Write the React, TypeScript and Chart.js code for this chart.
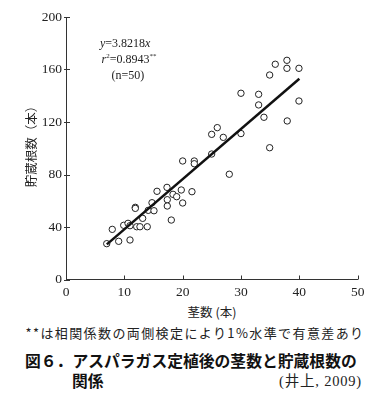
import React, { useEffect, useRef } from 'react';
import { Chart, registerables } from 'chart.js';

Chart.register(...registerables);

// ---- data ----
const stemCounts = [
  6.98, 7.93, 9.03, 9.89, 10.63, 10.97, 10.97, 11.88, 11.88, 12.12,
  12.68, 13.14, 13.93, 14.1, 14.74, 15.08, 15.6, 17.31, 17.36, 17.36,
  18.05, 18.34, 18.97, 19.76, 20.0, 20.0, 21.59, 21.99, 21.99, 24.97,
  24.97, 25.93, 26.96, 27.99, 29.99, 29.99, 33.02, 33.02, 33.93, 34.91,
  34.91, 35.87, 37.87, 37.87, 37.92, 39.93, 39.93,
];
const storageRoots = [
  27.3, 38.2, 29.1, 41.3, 42.8, 41.0, 30.1, 55.0, 54.2, 40.2,
  40.2, 46.6, 40.2, 52.7, 58.5, 52.4, 67.2, 70.2, 60.8, 56.0,
  45.3, 64.9, 63.1, 68.2, 58.3, 90.3, 66.9, 90.3, 88.2, 110.6,
  95.6, 115.7, 108.3, 80.2, 111.2, 141.9, 141.1, 133.0, 123.6, 100.4,
  155.8, 164.0, 167.0, 160.9, 120.8, 160.9, 136.0,
];
const fitX = [7, 40];
const fitY = [26.75, 152.9];
const xTickValues = [0, 10, 20, 30, 40, 50];
const yTickValues = [0, 40, 80, 120, 160, 200];

const yTitle = '貯蔵根数（本）';
const xTitle = '茎数 (本)';
const noteText = '**は相関係数の両側検定により1%水準で有意差あり';
const captionLine1 = '図６．アスパラガス定植後の茎数と貯蔵根数の';
const captionLine2 = '関係';
const sourceText = '(井上, 2009)';
const eqSlope = '3.8218';
const eqR2 = '0.8943';
const eqN = '(n=50)';

const SERIF = "'Liberation Serif', serif";
const SERIF_CJK = "'Liberation Serif', 'Noto Sans CJK JP', serif";
const CJK = "'Noto Sans CJK JP', sans-serif";

Chart.defaults.font.family = SERIF;

const decorPlugin = {
  id: 'decor',
  afterDraw(chart: any) {
    const { ctx } = chart;
    const xs = chart.scales.x;
    const ys = chart.scales.y;
    ctx.save();
    ctx.strokeStyle = '#333';
    ctx.lineWidth = 1;
    xTickValues.forEach((v) => {
      const px = Math.round(xs.getPixelForValue(v)) + 0.5;
      ctx.beginPath();
      ctx.moveTo(px, ys.bottom);
      ctx.lineTo(px, ys.bottom - 4);
      ctx.stroke();
    });
    yTickValues.forEach((v) => {
      const py = Math.round(ys.getPixelForValue(v)) + 0.5;
      ctx.beginPath();
      ctx.moveTo(xs.left - 2, py);
      ctx.lineTo(xs.left + 4, py);
      ctx.stroke();
    });

    ctx.fillStyle = '#222';
    ctx.save();
    ctx.translate(31, 143.5);
    ctx.rotate(-Math.PI / 2);
    ctx.font = `12.5px ${CJK}`;
    ctx.textAlign = 'center';
    ctx.textBaseline = 'middle';
    ctx.fillText(yTitle, 0, 0);
    ctx.restore();

    const drawRuns = (x0: number, y0: number, runs: [string, string, number][]) => {
      let x = x0;
      ctx.textAlign = 'left';
      ctx.textBaseline = 'alphabetic';
      runs.forEach(([t, f, dy]) => {
        ctx.font = f;
        ctx.fillText(t, x, y0 - dy);
        x += ctx.measureText(t).width;
      });
    };
    const normal = `12px ${SERIF}`;
    const italic = `italic 12px ${SERIF}`;
    const small = `7px ${SERIF}`;
    drawRuns(100, 46.5, [['y', italic, 0], ['=' + eqSlope, normal, 0], ['x', italic, 0]]);
    drawRuns(101.5, 63, [['r', italic, 0], ['2', small, 5], ['=' + eqR2, normal, 0], ['**', small, 5]]);
    drawRuns(111.5, 78.5, [[eqN, normal, 0]]);
    ctx.restore();
  },
};

export default function App() {
  const ref = useRef<HTMLCanvasElement>(null);

  useEffect(() => {
    if (!ref.current) return;
    const chart = new Chart(ref.current, {
      type: 'scatter',
      data: {
        datasets: [
          {
            label: 'fit',
            data: fitX.map((x, i) => ({ x, y: fitY[i] })),
            showLine: true,
            borderColor: '#111',
            borderWidth: 2.5,
            pointRadius: 0,
            order: 0,
          } as any,
          {
            label: 'points',
            data: stemCounts.map((x, i) => ({ x, y: storageRoots[i] })),
            pointRadius: 3.2,
            pointBorderWidth: 1,
            borderColor: '#222',
            backgroundColor: '#fff',
            order: 1,
          },
        ],
      },
      options: {
        responsive: false,
        animation: false,
        devicePixelRatio: 1,
        layout: { padding: { top: 17, right: 23.3, left: 0, bottom: 0 } },
        plugins: { legend: { display: false }, tooltip: { enabled: false } },
        scales: {
          x: {
            type: 'linear',
            min: 0,
            max: 50,
            afterFit: (s: any) => { s.height = 20.5; },
            afterBuildTicks: (s: any) => { s.ticks = xTickValues.map((v) => ({ value: v })); },
            grid: { display: true, drawOnChartArea: false, drawTicks: false },
            border: { display: true, color: '#333', width: 1 },
            ticks: {
              padding: 5,
              color: '#222',
              font: { family: SERIF, size: 13.5 },
              maxRotation: 0,
            },
          },
          y: {
            type: 'linear',
            min: 0,
            max: 200,
            afterFit: (s: any) => { s.width = 66; },
            afterBuildTicks: (s: any) => { s.ticks = yTickValues.map((v) => ({ value: v })); },
            grid: { display: true, drawOnChartArea: false, drawTicks: false },
            border: { display: true, color: '#333', width: 1 },
            ticks: {
              padding: 4,
              color: '#222',
              font: { family: SERIF, size: 13.5 },
            },
          },
        },
      },
      plugins: [decorPlugin],
    });
    return () => chart.destroy();
  }, []);

  return (
    <div style={{ position: 'fixed', left: 0, top: 0, width: 381, height: 408, background: '#fff', overflow: 'hidden' }}>
      <canvas ref={ref} width={381} height={300} style={{ position: 'absolute', left: 0, top: 0, width: 381, height: 300 }} />
      <div style={{ position: 'absolute', left: 112, width: 200, top: 304, lineHeight: '16px', textAlign: 'center', fontFamily: CJK, fontSize: 12.5, color: '#222', whiteSpace: 'nowrap' }}>
        {xTitle}
      </div>
      <div style={{ position: 'absolute', left: 0, width: 390, top: 325, lineHeight: '16px', textAlign: 'center', fontFamily: CJK, fontSize: 13, color: '#222', whiteSpace: 'nowrap', letterSpacing: 1.4 }}>
        {noteText}
      </div>
      <div style={{ position: 'absolute', left: 25, top: 351, lineHeight: '20px', fontFamily: CJK, fontWeight: 700, fontSize: 15.8, color: '#111', whiteSpace: 'nowrap' }}>
        {captionLine1}
      </div>
      <div style={{ position: 'absolute', left: 72, top: 371, lineHeight: '20px', fontFamily: CJK, fontWeight: 700, fontSize: 15.8, color: '#111', whiteSpace: 'nowrap' }}>
        {captionLine2}
      </div>
      <div style={{ position: 'absolute', right: 19, top: 372, lineHeight: '18px', textAlign: 'right', fontFamily: SERIF_CJK, fontSize: 14.5, color: '#222', whiteSpace: 'nowrap', letterSpacing: 0.8 }}>
        {sourceText}
      </div>
    </div>
  );
}
